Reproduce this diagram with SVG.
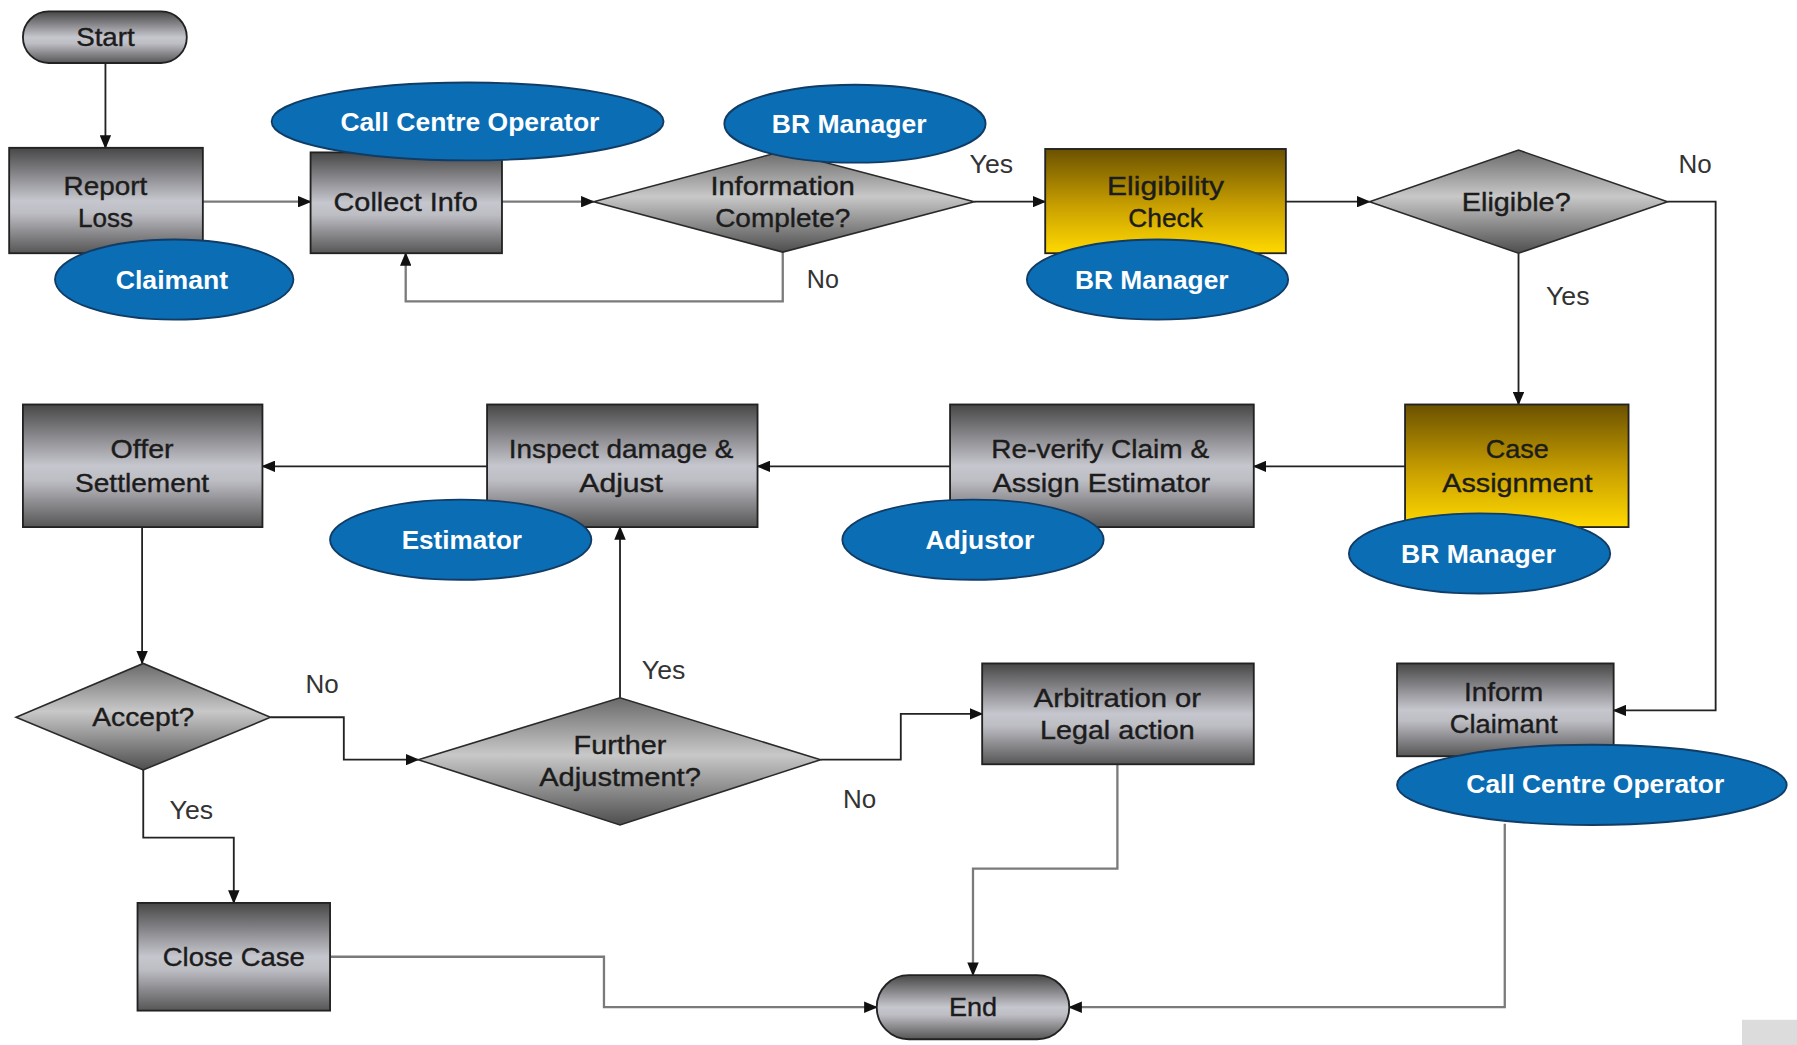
<svg xmlns="http://www.w3.org/2000/svg" width="1797" height="1045" viewBox="0 0 1797 1045">
  <defs>
    <style>
      .box { stroke: #222; stroke-width: 1.6; }
      .proc { fill: url(#gray); }
      .gold { fill: url(#gold); }
      .dec { fill: url(#grayDiamond); stroke: #2a2a2a; stroke-width: 1.4; }
      .term { fill: url(#gray); stroke: #222; stroke-width: 1.6; }
      .role { fill: #0b6db4; stroke: #113c66; stroke-width: 1.6; }
      .t { font-family: "Liberation Sans", Arial, sans-serif; font-size: 23px; fill: #1c1c1c; stroke: #1c1c1c; stroke-width: 0.35; text-anchor: middle; }
      .rt { font-family: "Liberation Sans", Arial, sans-serif; font-size: 23px; font-weight: bold; fill: #ffffff; text-anchor: middle; }
      .lbl { font-family: "Liberation Sans", Arial, sans-serif; font-size: 22px; fill: #333; text-anchor: middle; }
      .edge { fill: none; stroke: #222; stroke-width: 1.6; marker-end: url(#arrow); }
      .edge.soft { stroke: #7a7a7a; stroke-width: 2; }
    </style>
    <linearGradient id="gray" x1="0" y1="0" x2="0" y2="1">
      <stop offset="0" stop-color="#474747"/>
      <stop offset="0.5" stop-color="#c6c6ce"/>
      <stop offset="0.62" stop-color="#bdbdc4"/>
      <stop offset="1" stop-color="#565656"/>
    </linearGradient>
    <linearGradient id="grayDiamond" x1="0" y1="0" x2="0" y2="1">
      <stop offset="0" stop-color="#6a6a6a"/>
      <stop offset="0.45" stop-color="#c8c8c8"/>
      <stop offset="1" stop-color="#4e4e4e"/>
    </linearGradient>
    <linearGradient id="gold" x1="0" y1="0" x2="0" y2="1">
      <stop offset="0" stop-color="#6b5100"/>
      <stop offset="0.55" stop-color="#c9a000"/>
      <stop offset="1" stop-color="#ffd900"/>
    </linearGradient>
    <marker id="arrow" markerUnits="userSpaceOnUse" markerWidth="12" markerHeight="10" refX="11" refY="5" orient="auto">
      <path d="M0,0 L12,5 L0,10 z" fill="#111"/>
    </marker>
  </defs>

  <rect width="1797" height="1045" fill="#ffffff"/>

  <g transform="scale(1.14605,1.14583)">
    <!-- connectors -->
    <g id="connectors">
      <path class="edge" d="M92,55 V129"/>
      <path class="edge soft" d="M177,176 H271"/>
      <path class="edge soft" d="M438,176 H518"/>
      <path class="edge soft" d="M683,220 V263 H354 V221"/>
      <path class="edge" d="M850,176 H912"/>
      <path class="edge" d="M1122,176 H1195"/>
      <path class="edge" d="M1455,176 H1497 V620 H1408"/>
      <path class="edge" d="M1325,221 V353"/>
      <path class="edge" d="M1226,407 H1094"/>
      <path class="edge" d="M829,407 H661"/>
      <path class="edge" d="M425,407 H229"/>
      <path class="edge" d="M124,460 V579"/>
      <path class="edge" d="M236,626 H300 V663 H365"/>
      <path class="edge" d="M125,672 V731 H204 V788"/>
      <path class="edge" d="M541,609 V460"/>
      <path class="edge" d="M716,663 H786 V623 H857"/>
      <path class="edge soft" d="M975,667 V758 H849 V851"/>
      <path class="edge soft" d="M288,835 H527 V879 H765"/>
      <path class="edge soft" d="M1313,719 V879 H933"/>

      <text class="lbl" x="865" y="151" textLength="38" lengthAdjust="spacingAndGlyphs">Yes</text>
      <text class="lbl" x="718" y="251" textLength="28" lengthAdjust="spacingAndGlyphs">No</text>
      <text class="lbl" x="1479" y="151" textLength="29" lengthAdjust="spacingAndGlyphs">No</text>
      <text class="lbl" x="1368" y="266" textLength="38" lengthAdjust="spacingAndGlyphs">Yes</text>
      <text class="lbl" x="281" y="605" textLength="29" lengthAdjust="spacingAndGlyphs">No</text>
      <text class="lbl" x="167" y="715" textLength="38" lengthAdjust="spacingAndGlyphs">Yes</text>
      <text class="lbl" x="579" y="593" textLength="38" lengthAdjust="spacingAndGlyphs">Yes</text>
      <text class="lbl" x="750" y="705" textLength="29" lengthAdjust="spacingAndGlyphs">No</text>
    </g>

    <!-- start terminal -->
    <g id="start">
      <rect class="term" x="20" y="10" width="143" height="45" rx="22.5"/>
      <text class="t" x="92" y="40" textLength="51" lengthAdjust="spacingAndGlyphs">Start</text>
    </g>

    <g id="report-loss">
      <rect class="box proc" x="8" y="129" width="169" height="92"/>
      <text class="t" x="92" y="170" textLength="73" lengthAdjust="spacingAndGlyphs">Report</text>
      <text class="t" x="92" y="198" textLength="48" lengthAdjust="spacingAndGlyphs">Loss</text>
      <ellipse class="role" cx="152" cy="244" rx="104" ry="35"/>
      <text class="rt" x="150" y="252" textLength="98" lengthAdjust="spacingAndGlyphs">Claimant</text>
    </g>

    <g id="collect-info">
      <rect class="box proc" x="271" y="133" width="167" height="88"/>
      <text class="t" x="354" y="184" textLength="126" lengthAdjust="spacingAndGlyphs">Collect Info</text>
      <ellipse class="role" cx="408" cy="106" rx="171" ry="34"/>
      <text class="rt" x="410" y="114" textLength="226" lengthAdjust="spacingAndGlyphs">Call Centre Operator</text>
    </g>

    <g id="information-complete">
      <polygon class="dec" points="518,176 683,132 850,176 683,220"/>
      <text class="t" x="683" y="170" textLength="126" lengthAdjust="spacingAndGlyphs">Information</text>
      <text class="t" x="683" y="198" textLength="118" lengthAdjust="spacingAndGlyphs">Complete?</text>
      <ellipse class="role" cx="746" cy="108" rx="114" ry="34"/>
      <text class="rt" x="741" y="116" textLength="135" lengthAdjust="spacingAndGlyphs">BR Manager</text>
    </g>

    <g id="eligibility-check">
      <rect class="box gold" x="912" y="130" width="210" height="91"/>
      <text class="t" x="1017" y="170" textLength="102" lengthAdjust="spacingAndGlyphs">Eligibility</text>
      <text class="t" x="1017" y="198" textLength="65" lengthAdjust="spacingAndGlyphs">Check</text>
      <ellipse class="role" cx="1010" cy="244" rx="114" ry="35"/>
      <text class="rt" x="1005" y="252" textLength="134" lengthAdjust="spacingAndGlyphs">BR Manager</text>
    </g>

    <g id="eligible">
      <polygon class="dec" points="1195,176 1325,131 1455,176 1325,221"/>
      <text class="t" x="1323" y="184" textLength="95" lengthAdjust="spacingAndGlyphs">Eligible?</text>
    </g>

    <g id="case-assignment">
      <rect class="box gold" x="1226" y="353" width="195" height="107"/>
      <text class="t" x="1324" y="400" textLength="55" lengthAdjust="spacingAndGlyphs">Case</text>
      <text class="t" x="1324" y="429" textLength="131" lengthAdjust="spacingAndGlyphs">Assignment</text>
      <ellipse class="role" cx="1291" cy="483" rx="114" ry="35"/>
      <text class="rt" x="1290" y="491" textLength="135" lengthAdjust="spacingAndGlyphs">BR Manager</text>
    </g>

    <g id="reverify-claim">
      <rect class="box proc" x="829" y="353" width="265" height="107"/>
      <text class="t" x="960" y="400" textLength="190" lengthAdjust="spacingAndGlyphs">Re-verify Claim &amp;</text>
      <text class="t" x="961" y="429" textLength="190" lengthAdjust="spacingAndGlyphs">Assign Estimator</text>
      <ellipse class="role" cx="849" cy="471" rx="114" ry="35"/>
      <text class="rt" x="855" y="479" textLength="95" lengthAdjust="spacingAndGlyphs">Adjustor</text>
    </g>

    <g id="inspect-damage">
      <rect class="box proc" x="425" y="353" width="236" height="107"/>
      <text class="t" x="542" y="400" textLength="196" lengthAdjust="spacingAndGlyphs">Inspect damage &amp;</text>
      <text class="t" x="542" y="429" textLength="73" lengthAdjust="spacingAndGlyphs">Adjust</text>
      <ellipse class="role" cx="402" cy="471" rx="114" ry="35"/>
      <text class="rt" x="403" y="479" textLength="105" lengthAdjust="spacingAndGlyphs">Estimator</text>
    </g>

    <g id="offer-settlement">
      <rect class="box proc" x="20" y="353" width="209" height="107"/>
      <text class="t" x="124" y="400" textLength="55" lengthAdjust="spacingAndGlyphs">Offer</text>
      <text class="t" x="124" y="429" textLength="117" lengthAdjust="spacingAndGlyphs">Settlement</text>
    </g>

    <g id="accept">
      <polygon class="dec" points="14,626 125,579 236,626 125,672"/>
      <text class="t" x="125" y="634" textLength="89" lengthAdjust="spacingAndGlyphs">Accept?</text>
    </g>

    <g id="further-adjustment">
      <polygon class="dec" points="365,663 541,609 716,663 541,720"/>
      <text class="t" x="541" y="658" textLength="81" lengthAdjust="spacingAndGlyphs">Further</text>
      <text class="t" x="541" y="686" textLength="141" lengthAdjust="spacingAndGlyphs">Adjustment?</text>
    </g>

    <g id="arbitration">
      <rect class="box proc" x="857" y="579" width="237" height="88"/>
      <text class="t" x="975" y="617" textLength="146" lengthAdjust="spacingAndGlyphs">Arbitration or</text>
      <text class="t" x="975" y="645" textLength="135" lengthAdjust="spacingAndGlyphs">Legal action</text>
    </g>

    <g id="close-case">
      <rect class="box proc" x="120" y="788" width="168" height="94"/>
      <text class="t" x="204" y="843" textLength="124" lengthAdjust="spacingAndGlyphs">Close Case</text>
    </g>

    <g id="inform-claimant">
      <rect class="box proc" x="1219" y="579" width="189" height="81"/>
      <text class="t" x="1312" y="612" textLength="69" lengthAdjust="spacingAndGlyphs">Inform</text>
      <text class="t" x="1312" y="640" textLength="94" lengthAdjust="spacingAndGlyphs">Claimant</text>
      <ellipse class="role" cx="1389" cy="685" rx="170" ry="35"/>
      <text class="rt" x="1392" y="692" textLength="225" lengthAdjust="spacingAndGlyphs">Call Centre Operator</text>
    </g>

    <g id="end">
      <rect class="term" x="765" y="851" width="168" height="56" rx="28"/>
      <text class="t" x="849" y="887" textLength="42" lengthAdjust="spacingAndGlyphs">End</text>
    </g>

    <rect x="1520" y="890" width="48" height="22" fill="#dcdcdc"/>
  </g>
</svg>
